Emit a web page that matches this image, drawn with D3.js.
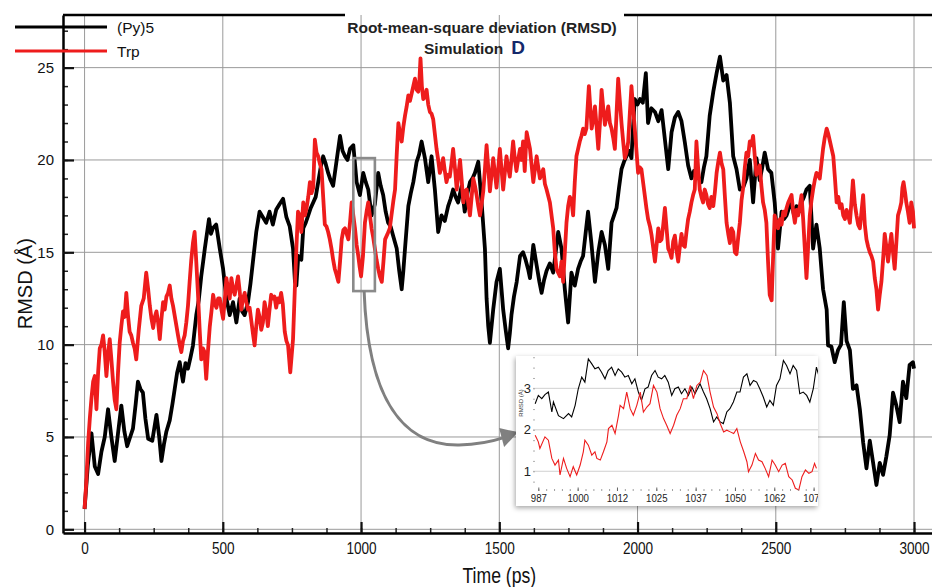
<!DOCTYPE html>
<html>
<head>
<meta charset="utf-8">
<script src="https://cdn.jsdelivr.net/npm/d3@7"></script>
<style>
  body { margin: 0; background: #fff; }
  svg { display: block; font-family: "Liberation Sans", Arial, sans-serif; }
</style>
</head>
<body>
<svg id="chart" width="932" height="587"></svg>
<script>
// ---- data (time in ps, RMSD in Å) ----
const py5 = [[0,1.1],[12,3.5],[25,5.2],[37,3.4],[49,3.0],[61,4.2],[73,5.0],[85,6.5],[97,5.0],[109,3.7],[121,5.2],[133,6.7],[144,5.3],[154,4.5],[165,5.0],[175,5.45],[185,6.8],[193,8.0],[202,7.6],[211,7.4],[220,6.0],[230,4.9],[245,4.8],[260,6.2],[270,5.0],[278,3.7],[287,4.6],[296,5.3],[308,5.9],[318,6.8],[326,7.6],[335,8.5],[344,9.05],[356,8.0],[365,9.0],[374,8.7],[383,9.3],[392,9.95],[404,11.6],[413,12.4],[422,13.7],[435,15.2],[450,16.8],[457,16.0],[464,16.3],[476,16.5],[489,15.2],[501,14.1],[513,12.5],[525,11.6],[537,12.3],[549,11.2],[561,12.5],[570,11.8],[579,11.6],[591,12.3],[600,13.3],[609,14.5],[621,16.1],[633,17.2],[645,16.9],[657,16.6],[669,17.2],[681,16.5],[693,17.3],[705,17.6],[718,17.9],[730,16.9],[742,16.4],[754,15.2],[761,13.4],[766,13.2],[773,14.8],[784,14.6],[791,16.3],[800,16.6],[809,17.0],[818,17.4],[827,17.7],[836,18.0],[845,18.8],[854,19.6],[863,20.2],[872,19.8],[881,19.3],[890,18.9],[899,18.6],[910,19.8],[924,21.3],[933,20.5],[942,20.2],[951,20.0],[960,20.6],[972,20.8],[984,18.8],[996,18.1],[1008,19.3],[1017,18.8],[1026,18.4],[1038,17.0],[1050,17.6],[1062,19.3],[1071,18.6],[1080,18.1],[1089,17.2],[1098,16.6],[1107,16.4],[1116,15.9],[1129,15.2],[1138,14.0],[1147,13.0],[1153,14.0],[1159,15.2],[1171,17.5],[1180,18.2],[1189,18.8],[1201,19.9],[1210,20.3],[1219,21.0],[1231,20.1],[1243,18.8],[1255,20.2],[1267,18.4],[1279,16.1],[1291,17.0],[1303,16.7],[1315,17.5],[1324,17.9],[1333,18.4],[1342,18.0],[1351,17.7],[1364,18.6],[1375,17.2],[1385,18.2],[1394,18.8],[1403,19.0],[1412,19.3],[1424,19.9],[1436,17.7],[1448,15.2],[1454,12.5],[1460,11.0],[1466,10.1],[1472,11.0],[1478,11.9],[1490,13.4],[1502,14.1],[1508,13.0],[1514,11.9],[1523,10.8],[1532,9.8],[1538,10.6],[1544,11.6],[1553,12.6],[1563,13.4],[1575,14.8],[1586,15.0],[1595,14.6],[1604,14.1],[1611,13.6],[1623,15.4],[1635,14.3],[1645,13.4],[1653,12.8],[1662,13.5],[1671,14.0],[1683,14.4],[1695,13.9],[1704,15.0],[1713,16.1],[1725,15.2],[1737,13.0],[1749,11.2],[1761,13.9],[1773,13.2],[1785,14.1],[1794,14.5],[1803,14.8],[1812,16.0],[1821,17.2],[1833,15.5],[1846,13.4],[1858,15.0],[1870,16.1],[1882,15.4],[1894,14.1],[1906,16.6],[1915,17.0],[1924,17.4],[1933,18.5],[1942,19.5],[1951,19.9],[1960,20.2],[1969,20.5],[1978,20.1],[1984,21.8],[1990,23.3],[2000,23.0],[2009,23.3],[2019,23.1],[2030,24.7],[2038,22.0],[2050,22.8],[2063,22.6],[2075,22.1],[2087,22.7],[2099,21.1],[2111,19.5],[2123,21.5],[2135,22.3],[2147,22.6],[2159,22.1],[2171,20.96],[2183,19.7],[2195,19.0],[2204,19.4],[2213,19.2],[2222,19.0],[2231,18.8],[2240,19.6],[2249,20.2],[2261,22.4],[2274,23.7],[2286,24.7],[2298,25.6],[2310,24.3],[2322,24.6],[2334,23.1],[2346,20.2],[2358,19.5],[2370,18.4],[2382,18.5],[2394,19.0],[2406,20.0],[2418,17.7],[2430,20.1],[2442,18.9],[2451,19.6],[2460,20.4],[2472,19.5],[2484,19.3],[2496,17.7],[2508,15.2],[2521,17.2],[2530,16.8],[2539,17.0],[2548,17.4],[2557,17.7],[2566,17.0],[2575,17.5],[2584,17.2],[2593,17.7],[2602,18.0],[2611,18.4],[2623,18.6],[2635,15.2],[2647,16.5],[2659,15.2],[2671,13.0],[2684,11.9],[2689,9.96],[2701,9.9],[2713,9.05],[2725,9.7],[2736,10.0],[2746,12.3],[2756,10.2],[2768,9.7],[2779,7.6],[2792,7.8],[2804,6.5],[2816,4.7],[2828,3.3],[2840,4.8],[2852,3.6],[2864,2.4],[2876,3.6],[2888,2.95],[2900,3.95],[2912,5.1],[2924,7.4],[2936,6.7],[2948,5.8],[2960,8.0],[2972,7.1],[2984,8.9],[2996,9.05],[3000,8.7]];

const trp = [[0,1.1],[6,2.5],[13,4.7],[19,6.0],[25,7.1],[31,8.0],[37,8.3],[43,6.5],[49,8.5],[55,9.8],[61,10.0],[67,10.5],[73,9.6],[79,8.3],[85,9.5],[91,10.3],[97,9.2],[103,8.0],[109,7.0],[115,6.5],[121,8.5],[127,10.1],[133,11.0],[139,11.8],[145,11.5],[151,12.8],[157,11.6],[163,10.7],[169,10.5],[175,10.1],[181,9.8],[187,9.2],[196,10.8],[205,12.1],[214,12.5],[223,13.9],[230,13.0],[236,12.1],[242,11.4],[248,10.9],[254,11.5],[260,11.8],[266,11.2],[272,10.3],[278,11.4],[284,12.3],[290,11.9],[296,12.6],[302,12.8],[308,13.2],[314,12.5],[320,12.1],[329,11.3],[338,10.5],[344,10.0],[350,9.6],[356,10.2],[362,10.5],[368,11.2],[374,12.1],[380,13.4],[386,14.6],[392,15.5],[398,16.1],[404,14.5],[410,12.8],[416,10.9],[422,9.2],[428,9.8],[434,9.6],[440,8.15],[446,9.6],[453,11.0],[459,11.8],[465,12.7],[471,12.2],[477,12.0],[483,12.5],[489,12.5],[495,11.9],[501,11.4],[507,12.4],[513,13.6],[519,13.0],[525,12.5],[531,13.6],[537,13.0],[543,12.7],[549,13.2],[555,13.7],[561,12.9],[567,11.9],[573,12.5],[579,12.8],[585,12.3],[591,11.9],[597,12.0],[603,11.3],[609,10.6],[615,9.96],[621,11.0],[627,11.9],[633,11.5],[639,10.8],[645,11.2],[651,12.3],[657,11.8],[663,11.0],[669,11.9],[675,12.7],[681,12.5],[687,12.6],[693,12.0],[699,12.5],[705,12.3],[711,12.8],[717,12.2],[724,10.7],[730,10.2],[736,9.96],[744,8.5],[749,9.4],[754,10.3],[760,12.8],[766,15.2],[772,17.2],[778,17.0],[784,16.1],[791,17.7],[797,17.0],[803,17.4],[809,18.0],[815,18.8],[821,18.2],[827,18.5],[833,21.1],[839,20.4],[845,20.2],[851,19.8],[857,19.5],[863,18.0],[869,16.5],[875,16.4],[881,16.1],[887,15.7],[893,15.2],[899,14.6],[905,14.1],[911,13.8],[918,13.4],[924,14.5],[930,15.7],[936,16.2],[942,16.3],[948,16.0],[954,15.7],[960,16.6],[966,17.7],[972,17.0],[978,16.3],[984,15.4],[990,14.8],[995,14.2],[1000,13.7],[1007,14.8],[1014,16.6],[1020,17.2],[1026,17.7],[1032,17.0],[1038,16.3],[1044,15.8],[1050,15.2],[1056,14.6],[1062,14.1],[1068,13.7],[1075,13.4],[1081,14.5],[1087,15.7],[1096,16.0],[1104,16.3],[1110,17.0],[1117,17.8],[1123,18.4],[1129,20.3],[1135,22.0],[1141,21.4],[1147,21.0],[1153,21.8],[1159,22.4],[1165,22.9],[1171,23.5],[1177,23.2],[1183,23.6],[1189,24.0],[1195,24.4],[1201,23.8],[1207,23.7],[1211,24.3],[1215,25.5],[1220,24.0],[1225,23.3],[1231,23.4],[1237,23.8],[1243,23.0],[1249,22.6],[1255,22.5],[1261,22.2],[1267,21.4],[1273,20.6],[1279,20.0],[1285,19.3],[1291,19.6],[1297,20.1],[1303,19.4],[1309,18.8],[1315,19.2],[1321,19.1],[1327,19.8],[1333,20.6],[1340,19.5],[1346,18.4],[1352,19.2],[1358,20.0],[1364,18.9],[1370,17.7],[1376,18.3],[1382,18.4],[1388,17.6],[1394,17.0],[1400,18.0],[1406,19.0],[1412,18.6],[1418,18.1],[1424,17.5],[1430,17.0],[1436,17.6],[1442,18.3],[1448,19.5],[1454,20.8],[1460,19.6],[1466,18.3],[1472,19.2],[1478,20.1],[1484,19.3],[1490,18.5],[1496,19.5],[1502,20.6],[1508,19.5],[1514,18.4],[1520,19.3],[1526,20.2],[1532,19.6],[1538,19.1],[1544,20.0],[1550,21.0],[1556,20.1],[1562,19.4],[1568,20.0],[1575,20.6],[1580,20.0],[1586,21.0],[1592,19.4],[1599,21.5],[1611,20.6],[1623,18.8],[1635,20.2],[1647,19.0],[1659,19.5],[1665,18.7],[1671,18.4],[1683,17.7],[1695,16.3],[1701,15.0],[1707,14.1],[1713,13.9],[1719,13.7],[1725,14.5],[1731,13.4],[1737,15.0],[1743,16.6],[1749,17.5],[1755,18.0],[1761,17.8],[1767,17.0],[1773,18.8],[1779,20.2],[1785,20.6],[1791,21.0],[1797,21.3],[1803,21.7],[1809,21.4],[1815,21.7],[1824,24.0],[1834,21.7],[1840,22.2],[1846,22.9],[1852,21.8],[1858,20.6],[1864,22.0],[1870,23.8],[1876,22.8],[1882,21.9],[1888,22.4],[1894,22.9],[1900,22.0],[1906,21.7],[1912,21.2],[1918,20.6],[1924,22.5],[1930,24.4],[1936,23.2],[1942,22.0],[1948,21.0],[1954,20.1],[1960,20.4],[1966,20.96],[1972,22.5],[1978,24.0],[1984,22.8],[1990,21.7],[1996,20.5],[2002,19.3],[2008,19.6],[2014,19.5],[2020,18.8],[2026,18.1],[2032,17.4],[2038,16.8],[2045,16.4],[2051,15.9],[2057,15.2],[2063,14.5],[2069,15.4],[2075,16.3],[2081,15.6],[2087,15.7],[2093,16.5],[2099,17.4],[2105,16.3],[2111,15.2],[2117,15.0],[2123,14.7],[2129,15.6],[2135,15.9],[2141,15.1],[2147,14.5],[2153,15.3],[2159,16.0],[2165,15.4],[2171,15.3],[2177,16.1],[2183,16.8],[2189,17.2],[2195,17.7],[2201,18.1],[2207,18.4],[2213,21.0],[2219,19.6],[2225,18.4],[2231,18.0],[2237,17.7],[2243,18.4],[2249,18.1],[2255,17.6],[2261,17.4],[2267,18.0],[2274,17.5],[2280,18.3],[2286,19.3],[2292,19.9],[2298,20.4],[2304,19.8],[2310,19.5],[2316,18.0],[2322,16.6],[2328,16.0],[2334,15.5],[2340,16.3],[2346,16.1],[2352,15.0],[2358,14.9],[2364,15.8],[2370,16.6],[2376,17.8],[2382,18.5],[2388,19.6],[2394,20.4],[2400,20.2],[2406,21.0],[2412,20.8],[2418,21.3],[2424,20.2],[2430,19.2],[2436,19.4],[2442,19.7],[2448,18.6],[2454,17.7],[2460,17.3],[2466,16.6],[2472,14.5],[2478,12.7],[2485,12.4],[2490,14.6],[2496,17.0],[2502,16.6],[2508,16.3],[2515,16.8],[2521,16.5],[2527,17.2],[2533,17.0],[2539,17.4],[2545,17.7],[2551,17.9],[2557,18.1],[2563,17.2],[2569,16.6],[2575,17.3],[2581,17.0],[2587,17.5],[2593,18.1],[2599,16.8],[2605,15.2],[2611,13.6],[2617,15.3],[2623,17.0],[2629,17.8],[2635,18.4],[2641,18.9],[2647,19.3],[2653,19.2],[2659,19.0],[2665,19.8],[2671,20.6],[2677,21.2],[2684,21.7],[2690,21.4],[2696,21.0],[2702,20.6],[2708,20.2],[2714,19.0],[2720,17.7],[2726,18.0],[2732,17.4],[2738,17.6],[2744,17.0],[2750,16.8],[2756,17.3],[2762,17.0],[2768,16.6],[2774,17.8],[2779,18.9],[2786,17.6],[2792,17.0],[2798,16.5],[2804,16.3],[2810,17.2],[2816,18.1],[2822,16.5],[2828,15.7],[2834,15.3],[2840,15.0],[2846,14.8],[2852,14.5],[2858,13.6],[2864,13.0],[2870,11.9],[2876,12.7],[2882,13.4],[2888,14.6],[2894,16.0],[2900,15.3],[2906,14.5],[2912,15.3],[2918,16.0],[2924,15.0],[2930,14.1],[2936,15.5],[2942,17.0],[2948,17.3],[2954,17.7],[2958,18.5],[2962,18.8],[2968,18.2],[2972,17.7],[2978,17.2],[2984,16.6],[2990,17.7],[2996,17.2],[3000,16.3]];

// zoomed window 987-1077 ps (inset)
const py5Zoom = [[986.5,2.63],[987.5,2.83],[988.6,2.75],[989.6,2.85],[990.7,2.91],[991.8,2.43],[992.3,2.67],[993.9,2.34],[995.5,2.27],[997.1,2.39],[998.1,2.31],[999.2,2.59],[1000.2,2.99],[1001.3,3.27],[1002.3,3.15],[1003.4,3.71],[1004.5,3.59],[1005.5,3.47],[1006.6,3.51],[1007.6,3.39],[1008.7,3.23],[1009.7,3.43],[1010.8,3.51],[1011.9,3.31],[1012.9,3.47],[1014.0,3.39],[1015.0,3.27],[1016.1,3.31],[1017.2,3.11],[1018.2,3.23],[1019.3,2.91],[1020.3,2.71],[1021.4,2.99],[1022.4,3.03],[1023.5,3.31],[1024.6,3.43],[1025.6,3.27],[1026.7,3.23],[1027.7,3.31],[1028.8,3.15],[1029.9,2.83],[1030.9,2.99],[1032.0,3.03],[1033.0,2.87],[1034.1,2.99],[1035.2,2.83],[1036.3,3.03],[1037.3,2.87],[1038.9,3.11],[1040.0,2.91],[1041.0,2.75],[1042.1,2.51],[1043.2,2.19],[1044.2,2.31],[1045.3,2.19],[1046.3,2.15],[1047.4,2.43],[1048.4,2.51],[1049.5,2.67],[1050.6,2.91],[1051.6,2.91],[1052.7,3.27],[1053.8,3.35],[1054.8,3.07],[1055.9,3.19],[1056.9,3.15],[1057.9,2.99],[1059.0,2.79],[1060.1,2.55],[1061.1,2.71],[1062.2,2.59],[1063.2,3.07],[1064.3,3.23],[1065.4,3.67],[1066.4,3.55],[1067.5,3.35],[1068.5,3.55],[1069.6,3.43],[1070.6,2.87],[1071.7,2.91],[1072.8,2.83],[1073.8,2.67],[1074.9,2.99],[1075.9,3.51],[1076.8,3.27]];

const trpZoom = [[986.5,1.87],[987.5,1.71],[988.0,1.55],[989.6,1.83],[990.7,1.75],[991.8,1.31],[992.8,1.15],[993.9,1.27],[994.4,0.91],[995.5,1.31],[996.5,1.07],[997.6,0.87],[998.6,1.11],[999.7,0.91],[1000.8,1.15],[1001.8,1.47],[1002.3,1.75],[1003.4,1.63],[1004.5,1.39],[1005.5,1.47],[1006.1,1.31],[1007.2,1.27],[1008.2,1.47],[1009.3,1.71],[1009.8,2.03],[1010.9,2.11],[1011.9,1.91],[1013.0,2.35],[1013.5,2.59],[1014.6,2.51],[1015.6,2.91],[1016.7,2.51],[1017.7,2.35],[1018.8,2.59],[1019.9,2.91],[1020.9,2.43],[1022.0,2.55],[1023.0,2.63],[1024.1,3.07],[1025.2,2.91],[1026.2,2.51],[1027.3,2.27],[1028.3,2.11],[1029.4,1.91],[1030.5,2.11],[1031.5,2.35],[1032.6,2.51],[1033.6,2.75],[1034.7,2.75],[1035.8,3.07],[1036.8,2.75],[1037.9,3.07],[1039.0,3.15],[1040.0,3.43],[1041.1,3.31],[1042.1,2.91],[1043.2,2.55],[1044.3,2.39],[1045.3,2.15],[1046.4,1.95],[1047.4,1.99],[1048.5,1.95],[1049.6,1.91],[1050.6,2.03],[1051.7,1.71],[1052.8,1.47],[1053.8,1.23],[1054.3,0.99],[1055.4,1.15],[1056.5,1.43],[1057.5,1.27],[1058.6,1.23],[1059.6,1.07],[1060.7,0.87],[1061.8,1.27],[1062.8,1.15],[1063.9,0.99],[1065.0,1.15],[1066.0,1.19],[1067.1,0.87],[1068.2,0.79],[1069.2,0.59],[1070.3,0.55],[1071.3,0.87],[1072.4,1.03],[1073.5,0.95],[1074.5,0.99],[1075.3,1.19],[1075.9,1.07]];

const xTicks = [0, 500, 1000, 1500, 2000, 2500, 3000];
const yTicks = [0, 5, 10, 15, 20, 25];
const zoomXTicks = [987.5, 1000, 1012.5, 1025, 1037.5, 1050, 1062.5, 1075];
const zoomYTicks = [1, 2, 3];
const zoomWindow = [972, 1050, 12.9, 20.1]; // t0, t1, v0, v1 of the grey box

const series = [
  { name: "(Py)5", data: py5, zoom: py5Zoom, color: "#000000" },
  { name: "Trp", data: trp, zoom: trpZoom, color: "#ee1c1c" }
];

const svg = d3.select("#chart");
const plotL = 63, plotR = 932, plotT = 15, plotB = 533;
const narrow = "scale(0.8,1)"; // reference uses a condensed face for the time axis

const x = d3.scaleLinear().domain([-78, 3065]).range([plotL, plotR]);
const y = d3.scaleLinear().domain([-0.2, 27.85]).range([plotB, plotT]);

const defs = svg.append("defs");
defs.append("clipPath").attr("id", "plotClip")
  .append("rect").attr("x", plotL).attr("y", plotT).attr("width", plotR - plotL).attr("height", plotB - plotT);

// grid
const grid = svg.append("g").attr("stroke", "#9a9a9a").attr("stroke-width", 1);
grid.selectAll("line.gx").data(xTicks).join("line").attr("class", "gx")
  .attr("x1", d => x(d)).attr("x2", d => x(d)).attr("y1", plotT).attr("y2", plotB);
grid.selectAll("line.gy").data(yTicks).join("line").attr("class", "gy")
  .attr("y1", d => y(d)).attr("y2", d => y(d)).attr("x1", plotL).attr("x2", plotR);

// series
const line = d3.line().x(d => x(d[0])).y(d => y(d[1]));
const plot = svg.append("g").attr("clip-path", "url(#plotClip)");
series.forEach(s => {
  plot.append("path")
    .datum(s.data)
    .attr("fill", "none")
    .attr("stroke", s.color)
    .attr("stroke-width", 3.8)
    .attr("stroke-linejoin", "round")
    .attr("d", line);
});

// axes
const xMinor = d3.range(0, 3001, 125);
const yMinor = d3.range(0, 28, 1);

svg.append("g").attr("transform", `translate(0,${plotB})`)
  .call(d3.axisBottom(x).tickValues(xMinor).tickSizeInner(-5).tickSizeOuter(0).tickFormat(""))
  .call(g => g.select(".domain").remove())
  .call(g => g.selectAll("line").attr("stroke", "#222").attr("stroke-width", 1.5));

const xAxis = svg.append("g").attr("transform", `translate(0,${plotB})`)
  .call(d3.axisBottom(x).tickValues(xTicks).tickFormat(d3.format("d"))
    .tickSizeInner(-11).tickSizeOuter(0).tickPadding(9));
xAxis.select(".domain").attr("stroke", "#000").attr("stroke-width", 2.5);
xAxis.selectAll("line").attr("stroke", "#111").attr("stroke-width", 2.2);
xAxis.selectAll("text")
  .attr("transform", narrow)
  .attr("font-size", 17).attr("fill", "#111");

svg.append("g").attr("transform", `translate(${plotL},0)`)
  .call(d3.axisLeft(y).tickValues(yMinor).tickSizeInner(-5).tickSizeOuter(0).tickFormat(""))
  .call(g => g.select(".domain").remove())
  .call(g => g.selectAll("line").attr("stroke", "#222").attr("stroke-width", 1.5));

const yAxis = svg.append("g").attr("transform", `translate(${plotL},0)`)
  .call(d3.axisLeft(y).tickValues(yTicks).tickFormat(d3.format("d"))
    .tickSizeInner(-11).tickSizeOuter(0).tickPadding(9));
yAxis.select(".domain").attr("stroke", "#000").attr("stroke-width", 2.5);
yAxis.selectAll("line").attr("stroke", "#111").attr("stroke-width", 2.2);
yAxis.selectAll("text").attr("font-size", 15).attr("fill", "#111");

// top frame, interrupted by the title
svg.append("g").attr("stroke", "#000").attr("stroke-width", 2.5)
  .selectAll("line").data([[plotL, 345], [624, plotR]]).join("line")
  .attr("x1", d => d[0]).attr("x2", d => d[1]).attr("y1", plotT).attr("y2", plotT);

// axis titles
svg.append("g").attr("transform", `translate(${x(1500)},583)`)
  .append("text")
  .attr("transform", narrow)
  .attr("text-anchor", "middle")
  .attr("font-size", 22).attr("fill", "#111")
  .text("Time (ps)");

svg.append("text")
  .attr("transform", `translate(32,${y(13.3)}) rotate(-90)`)
  .attr("text-anchor", "middle")
  .attr("font-size", 20).attr("fill", "#111")
  .text("RMSD (Å)");

// title
svg.append("text")
  .attr("x", 482).attr("y", 33)
  .attr("text-anchor", "middle")
  .attr("font-weight", "bold").attr("font-size", 15.5).attr("fill", "#222")
  .text("Root-mean-square deviation (RMSD)");
const sub = svg.append("text").attr("x", 424).attr("y", 54)
  .attr("font-weight", "bold").attr("font-size", 15.5).attr("fill", "#222");
sub.append("tspan").text("Simulation");
sub.append("tspan").attr("dx", 8).attr("font-size", 19).attr("fill", "#14286b").text("D");

// legend
const legend = svg.append("g");
series.forEach((s, i) => {
  const ly = 27 + i * 24;
  legend.append("line")
    .attr("x1", 15).attr("x2", 107).attr("y1", ly).attr("y2", ly)
    .attr("stroke", s.color).attr("stroke-width", 3.2);
  legend.append("text")
    .attr("x", 117).attr("y", ly + 6)
    .attr("font-size", 15.5).attr("fill", "#111")
    .text(s.name);
});

// zoom box + arrow
const bx0 = x(zoomWindow[0]), bx1 = x(zoomWindow[1]);
const by0 = y(zoomWindow[3]), by1 = y(zoomWindow[2]);
svg.append("rect")
  .attr("x", bx0).attr("y", by0).attr("width", bx1 - bx0).attr("height", by1 - by0)
  .attr("fill", "none").attr("stroke", "#8a8a8a").attr("stroke-width", 2.6);

const ax = (bx0 + bx1) / 2;
svg.append("path")
  .attr("d", `M${ax},${by1} C${ax + 4},${by1 + 110} ${ax + 40},${by1 + 155} ${ax + 95},${by1 + 154} C${ax + 120},${by1 + 153} ${ax + 132},${by1 + 149} ${ax + 138},${by1 + 147}`)
  .attr("fill", "none").attr("stroke", "#808080").attr("stroke-width", 3);
svg.append("path")
  .attr("d", `M${ax + 135},${by1 + 137} L${ax + 154},${by1 + 141} L${ax + 140},${by1 + 156} Z`)
  .attr("fill", "#808080");

// ---- inset ----
const ins = { x: 516, y: 356, w: 302, h: 150 };
const shadow = defs.append("filter").attr("id", "shadow")
  .attr("x", "-10%").attr("y", "-10%").attr("width", "120%").attr("height", "125%");
shadow.append("feDropShadow").attr("dx", -1).attr("dy", 2).attr("stdDeviation", 2.5)
  .attr("flood-color", "#000").attr("flood-opacity", 0.35);
defs.append("clipPath").attr("id", "insetClip")
  .append("rect").attr("x", ins.x).attr("y", ins.y).attr("width", ins.w).attr("height", ins.h);

svg.append("rect")
  .attr("x", ins.x).attr("y", ins.y).attr("width", ins.w).attr("height", ins.h)
  .attr("fill", "#fff").attr("filter", "url(#shadow)");

const inset = svg.append("g").attr("clip-path", "url(#insetClip)");
const zx = d3.scaleLinear().domain([986, 1077]).range([533.6, 819.9]);
const zy = d3.scaleLinear().domain([0.5, 3.78]).range([492, 356]);

inset.append("g").attr("stroke", "#c4c4c4").attr("stroke-width", 0.8)
  .selectAll("line").data(zoomYTicks).join("line")
  .attr("x1", 533).attr("x2", ins.x + ins.w).attr("y1", d => zy(d)).attr("y2", d => zy(d));

const zline = d3.line().x(d => zx(d[0])).y(d => zy(d[1]));
series.forEach(s => {
  inset.append("path")
    .datum(s.zoom)
    .attr("fill", "none")
    .attr("stroke", s.color)
    .attr("stroke-width", 1.1)
    .attr("d", zline);
});

// inset y axis
inset.append("g").attr("transform", "translate(533,0)")
  .call(d3.axisLeft(zy).tickValues(d3.range(0.75, 3.76, 0.25)).tickSizeInner(-2).tickSizeOuter(0).tickFormat(""))
  .call(g => g.select(".domain").remove())
  .call(g => g.selectAll("line").attr("stroke", "#999").attr("stroke-width", 0.8));
inset.append("g").attr("transform", "translate(533,0)")
  .call(d3.axisLeft(zy).tickValues(zoomYTicks).tickFormat(d3.format("d")).tickSize(0).tickPadding(2))
  .call(g => g.select(".domain").remove())
  .call(g => g.selectAll("text").attr("font-size", 13).attr("fill", "#222"));
inset.append("text")
  .attr("transform", "translate(523,403) rotate(-90)")
  .attr("text-anchor", "middle")
  .attr("font-size", 6).attr("fill", "#333")
  .text("RMSD (Å)");

// inset x axis
inset.append("g").attr("transform", "translate(0,491)")
  .call(d3.axisBottom(zx).tickValues(d3.range(987.5, 1077, 2.5)).tickSizeInner(-2).tickSizeOuter(0).tickFormat(""))
  .call(g => g.select(".domain").remove())
  .call(g => g.selectAll("line").attr("stroke", "#888").attr("stroke-width", 0.8));
inset.append("g").attr("transform", "translate(0,491)")
  .call(d3.axisBottom(zx).tickValues(zoomXTicks).tickSizeInner(-3.5).tickSizeOuter(0).tickPadding(3).tickFormat(d => Math.floor(d)))
  .call(g => g.select(".domain").remove())
  .call(g => g.selectAll("line").attr("stroke", "#666").attr("stroke-width", 1))
  .call(g => g.selectAll("text")
    .attr("transform", "scale(0.88,1)")
    .attr("font-size", 11).attr("fill", "#222"));
</script>
</body>
</html>
